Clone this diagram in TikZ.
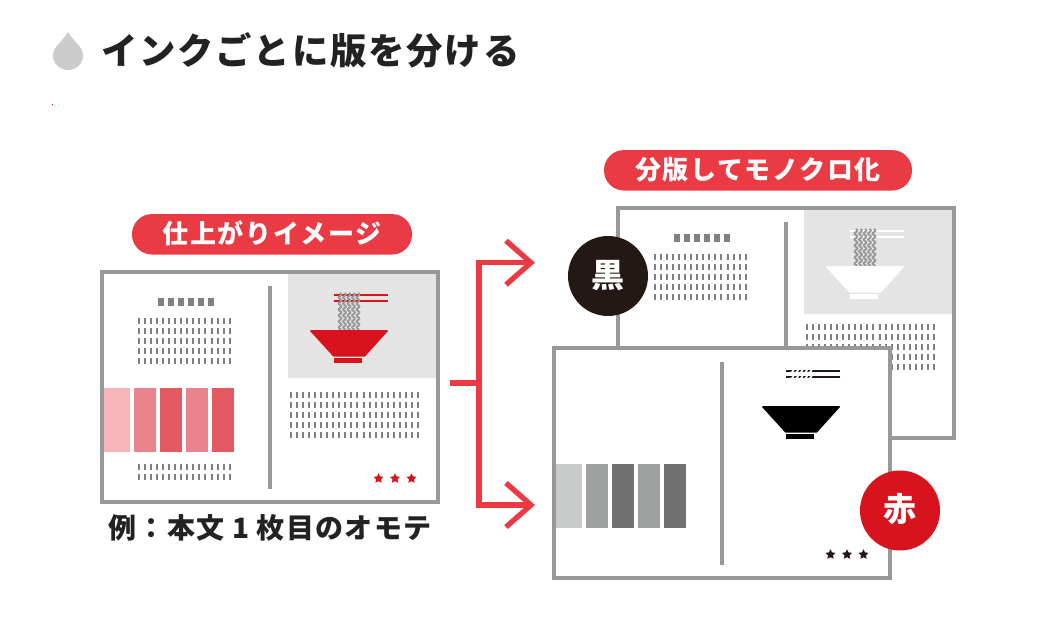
\documentclass[tikz,border=0pt]{standalone}
\usepackage{fontspec}
\usetikzlibrary{arrows.meta,shapes.geometric}
\newfontfamily\jptitle[LetterSpace=4.9]{Noto Sans CJK JP}
\newfontfamily\jppill[LetterSpace=6]{Noto Sans CJK JP}
\newfontfamily\jpcap[LetterSpace=4.8]{Noto Sans CJK JP}
\newfontfamily\jpplain{Noto Sans CJK JP}
\definecolor{frameGray}{HTML}{999999}
\definecolor{dashGray}{HTML}{808080}
\definecolor{panelGray}{HTML}{E4E4E4}
\definecolor{inkRed}{HTML}{D7141D}
\definecolor{pillRed}{HTML}{EA3A44}
\definecolor{inkBlack}{HTML}{231815}
\definecolor{titleInk}{HTML}{222222}
\tikzset{
  pagebox/.style={draw=frameGray,line width=4pt,fill=white},
  pillbox/.style={fill=pillRed,rounded corners=20pt,minimum height=40.5pt,inner sep=0pt,text=white,
    font=\jppill\bfseries\fontsize{26}{26}\selectfont,text height=22pt,text depth=3pt},
  platecircle/.style={circle,minimum size=80pt,inner sep=0pt,text=white,text height=26pt,text depth=4pt},
  starmark/.style={star,star points=5,star point ratio=2,minimum size=10.5pt,inner sep=0pt},
  branch/.style={draw=pillRed,line width=5.3pt},
  branchtip/.style={branch,-{Straight Barb[length=25pt,width=44pt,line width=5.3pt]}},
  dashrow/.style={line width=6pt,draw=dashGray,dash pattern=on 2pt off 4pt},
}
% x, y (top), dashes in second group, rows
\newcommand{\dashgrid}[4]{%
  \foreach \rw in {1,...,#4}{%
    \pgfmathsetmacro{\yy}{#2+3+10*(\rw-1)}%
    \draw[dashrow] (#1,\yy) -- ++(72,0);
    \draw[dashrow] ({#1+73.3},\yy) -- ++({6*#3-4},0);
  }}
\newcommand{\noodles}[2]{% colour, line width
  \foreach \nx in {340,344.5,349,353.5,358}{%
    \draw[#1,line width=#2pt] plot[domain=0:37,samples=50,smooth] ({\nx+1.4*sin(\x*60)},{293+\x});
  }}
\newcommand{\bowl}[1]{%
  \fill[#1] (310,331) -- (311,330) -- (387,330) -- (388,331) -- (365,356.5) -- (333.3,356.5) -- cycle;
  \fill[#1] (334,358) rectangle (362,362.7);
}
\newcommand{\chopsticks}[1]{%
  \fill[#1] (334,294) rectangle (388,296);
  \fill[#1] (334,300) rectangle (388,302);
}
\newcommand{\pagecommon}{%
  \draw[pagebox] (102,272) rectangle (438,502);
  \fill[frameGray] (268,286) rectangle (272,488.5);
}
\newcommand{\swatches}[5]{%
  \fill[#1] (104,388) rectangle (130,452);
  \fill[#2] (134,388) rectangle (156,452);
  \fill[#3] (160,388) rectangle (182,452);
  \fill[#4] (186,388) rectangle (208,452);
  \fill[#5] (212,388) rectangle (234,452);
}
\newcommand{\heading}{%
  \foreach \i in {0,...,5}{\fill[dashGray] ({158+10*\i},298) rectangle ++(6,8);}
  \dashgrid{138}{318}{4}{5}
}
\newcommand{\starrow}[2]{%
  \node[starmark,fill=#1] (#2a) at (378.5,478.5) {};
  \node[starmark,fill=#1] (#2b) at (395,478.5) {};
  \node[starmark,fill=#1] (#2c) at (411.5,478.5) {};
}
\definecolor{swA}{HTML}{F5B5B9}
\definecolor{swB}{HTML}{EA838B}
\definecolor{swC}{HTML}{E45A63}
\definecolor{gsA}{HTML}{C9CACA}
\definecolor{gsB}{HTML}{9FA0A0}
\definecolor{gsC}{HTML}{717171}
\begin{document}
\begin{tikzpicture}[x=1pt,y=-1pt]
\useasboundingbox (0,0) rectangle (1044,634);
\fill[white] (0,0) rectangle (1044,634);

% heading
\fill[black!20] (68,32) .. controls (62,42) and (53,47) .. (53,55) .. controls (53,64) and (60,70) .. (68,70)
  .. controls (76,70) and (83,64) .. (83,55) .. controls (83,47) and (74,42) .. (68,32) -- cycle;
\node[anchor=base west,inner sep=0pt,text=titleInk,font=\jptitle\bfseries\fontsize{36.4}{36.4}\selectfont] (title) at (101,64) {インクごとに版を分ける};
\fill[red] (52,104) rectangle (53,105);

% finished page
\node[pillbox,minimum width=280pt] (pillA) at (272,234.3) {仕上がりイメージ};
\pagecommon
\fill[panelGray] (288,274) rectangle (436,378);
\chopsticks{inkRed}
\noodles{frameGray}{1.9}
\bowl{inkRed}
\heading
\dashgrid{138}{464}{4}{2}
\dashgrid{290}{392}{10}{5}
\swatches{swA}{swB}{swC}{swB}{swC}
\starrow{inkRed}{sa}
\node[anchor=base,inner sep=0pt,text=titleInk,font=\jpcap\bfseries\fontsize{28}{28}\selectfont] (caption) at (270,538.5) {例：本文 1 枚目のオモテ};

% connector
\coordinate (stem) at (450,383);
\coordinate (joint) at (479,383);
\coordinate (toBlack) at (535,262.7);
\coordinate (toRed) at (535,505);
\draw[branch] (stem) -- (joint);
\draw[branchtip] (joint) |- (toBlack);
\draw[branchtip] (joint) |- (toRed);

% black plate
\node[pillbox,minimum width=308pt] (pillB) at (758,170.3) {分版してモノクロ化};
\begin{scope}[shift={(516,-64)}]
  \pagecommon
  \fill[panelGray] (288,274) rectangle (436,378);
  \chopsticks{white}
  \noodles{frameGray}{1.9}
  \bowl{white}
  \heading
  \dashgrid{290}{388}{10}{5}
\end{scope}

% red plate
\begin{scope}[shift={(452,76)}]
  \pagecommon
  \chopsticks{inkBlack}
  \begin{scope}
    \clip (334,293) rectangle (362,303);
    \noodles{white}{1.6}
  \end{scope}
  \bowl{black}
  \swatches{gsA}{gsB}{gsC}{gsB}{gsC}
  \starrow{inkBlack}{sb}
\end{scope}

\node[platecircle,fill=inkBlack,font=\jpplain\bfseries\fontsize{33}{33}\selectfont] (plateK) at (608,276) {黒};
\node[platecircle,fill=inkRed,font=\jpplain\bfseries\fontsize{33}{33}\selectfont] (plateR) at (900,510.5) {赤};
\end{tikzpicture}
\end{document}
